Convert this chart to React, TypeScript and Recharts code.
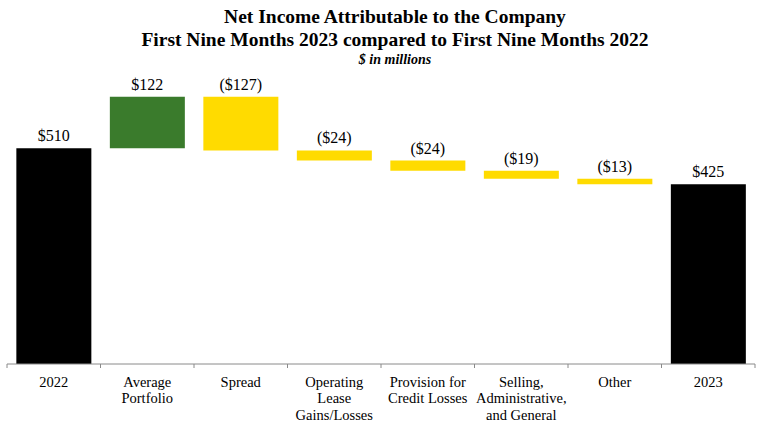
import { BarChart, Bar, XAxis, YAxis, Cell, LabelList } from 'recharts';

document.body.style.margin = '0';

const categories = [
  '2022',
  'Average\nPortfolio',
  'Spread',
  'Operating\nLease\nGains/Losses',
  'Provision for\nCredit Losses',
  'Selling,\nAdministrative,\nand General',
  'Other',
  '2023',
];
const amounts = [510, 122, -127, -24, -24, -19, -13, 425];
const isTotal = [true, false, false, false, false, false, false, true];

const W = 768;
const H = 427;
const MARGIN = { top: 68, right: 13, bottom: 0, left: 7 };
const BAND = (W - MARGIN.left - MARGIN.right) / categories.length;
const SERIF = '"Liberation Serif", "Times New Roman", serif';

const TOTAL_COLOR = '#000000';
const UP_COLOR = '#3a7b2c';
const DOWN_COLOR = '#ffdb00';

let running = 0;
const rows = categories.map((name, i) => {
  const v = amounts[i];
  let base = 0;
  if (isTotal[i]) {
    running = v;
  } else {
    base = Math.min(running, running + v);
    running += v;
  }
  return {
    name,
    base,
    size: Math.abs(v),
    label: v >= 0 ? `$${v}` : `($${-v})`,
    color: isTotal[i] ? TOTAL_COLOR : v >= 0 ? UP_COLOR : DOWN_COLOR,
  };
});

function renderLabel(props: any) {
  const { x, y, width, value } = props;
  return (
    <text
      x={x + width / 2}
      y={y - 7}
      textAnchor='middle'
      fill='#000'
      style={{ fontFamily: SERIF, fontSize: 16 }}
    >
      {value}
    </text>
  );
}

function CategoryTick(props: any) {
  const { x, y, payload, index } = props;
  const lines = String(payload.value).split('\n');
  const half = BAND / 2;
  const last = index === categories.length - 1;
  return (
    <g>
      <line x1={x - half} x2={x - half} y1={y} y2={y + 4} stroke='#8a8a8a' />
      {last && <line x1={x + half} x2={x + half} y1={y} y2={y + 4} stroke='#8a8a8a' />}
      <text textAnchor='middle' fill='#000' style={{ fontFamily: SERIF, fontSize: 14.5 }}>
        {lines.map((line, i) => (
          <tspan key={i} x={x} y={y + 22.5 + i * 16.8}>
            {line}
          </tspan>
        ))}
      </text>
    </g>
  );
}

export default function App() {
  return (
    <div style={{ position: 'relative', width: W, height: H, background: '#fff', fontFamily: SERIF }}>
      <div
        style={{
          position: 'absolute',
          top: 5,
          left: 22,
          width: W - 22,
          textAlign: 'center',
          fontWeight: 'bold',
          color: '#000',
        }}
      >
        <div style={{ fontSize: 19.5, lineHeight: '23px' }}>Net Income Attributable to the Company</div>
        <div style={{ fontSize: 19.5, lineHeight: '23px' }}>First Nine Months 2023 compared to First Nine Months 2022</div>
        <div style={{ fontSize: 14, lineHeight: '17px', fontStyle: 'italic' }}>$ in millions</div>
      </div>
      <BarChart width={W} height={H} data={rows} margin={MARGIN} barCategoryGap='10%' style={{ fontFamily: SERIF }}>
        <XAxis
          dataKey='name'
          height={63}
          interval={0}
          tickLine={false}
          tickSize={0}
          tickMargin={0}
          axisLine={{ stroke: '#8a8a8a' }}
          tick={<CategoryTick />}
        />
        <YAxis hide domain={[0, 700]} />
        <Bar dataKey='base' stackId='w' fill='transparent' isAnimationActive={false} />
        <Bar dataKey='size' stackId='w' isAnimationActive={false}>
          {rows.map((r, i) => (
            <Cell key={`cell-${i}`} fill={r.color} />
          ))}
          <LabelList dataKey='label' content={renderLabel} />
        </Bar>
      </BarChart>
    </div>
  );
}
